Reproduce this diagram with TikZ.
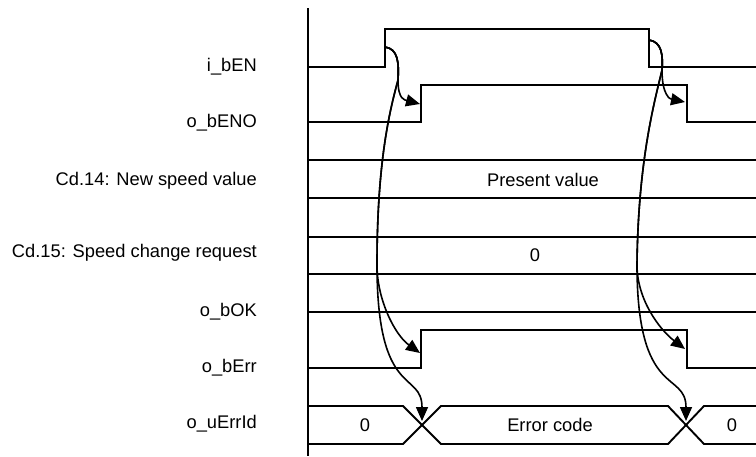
\documentclass[tikz,border=0pt]{standalone}
\usepackage{fontspec}
\setmainfont{Liberation Sans}
\usetikzlibrary{arrows.meta}
\tikzset{
  wavelines/.style={line width=1.9pt},
  signame/.style={anchor=east, inner sep=0pt, font=\fontsize{18.3}{22}\selectfont},
  busval/.style={inner sep=0pt, font=\fontsize{18.3}{22}\selectfont},
  cause/.style={line width=1.6pt, -{Triangle[length=14pt,width=12pt]}}
}

\begin{document}
\begin{tikzpicture}[x=1pt,y=-1pt]
  \useasboundingbox (0,0) rectangle (756,456);

  % Time axis
  \draw[wavelines] (308,8) -- (308,456);

  % Signal names
  \node[signame] (nben) at (257,67) {i\_bEN};
  \node[signame] (nbeno) at (257,123) {o\_bENO};
  \node[signame] (ncdfourteen) at (257,181) {Cd.14: New speed value};
  \node[signame] (ncdfifteen) at (257,253) {Cd.15: Speed change request};
  \node[signame] (nbok) at (257,312) {o\_bOK};
  \node[signame] (nberr) at (257,368) {o\_bErr};
  \node[signame] (nuerrid) at (257,424) {o\_uErrId};

  % i_bEN
  \draw[wavelines] (308,67) -- (385,67) -- (385,29) -- (649,29) -- (649,67) -- (756,67);

  % o_bENO
  \draw[wavelines] (308,122) -- (421,122) -- (421,85) -- (687,85) -- (687,122) -- (756,122);

  % Cd.14
  \draw[wavelines] (308,160) -- (756,160);
  \draw[wavelines] (308,198) -- (756,198);
  \node[busval] (vpresent) at (543,180) {Present value};

  % Cd.15
  \draw[wavelines] (308,237) -- (756,237);
  \draw[wavelines] (308,274) -- (756,274);
  \node[busval] (vzero) at (535,255) {0};

  % o_bOK
  \draw[wavelines] (308,312) -- (756,312);

  % o_bErr
  \draw[wavelines] (308,368) -- (421,368) -- (421,330) -- (687,330) -- (687,368) -- (756,368);

  % o_uErrId
  \draw[wavelines] (308,406) -- (403,406) -- (441,444) -- (668,444) -- (704,406) -- (756,406);
  \draw[wavelines] (308,444) -- (403,444) -- (441,406) -- (668,406) -- (704,444) -- (756,444);
  \node[busval] (idzero) at (365,425) {0};
  \node[busval] (iderr) at (550,425) {Error code};
  \node[busval] (idzeroend) at (732,425) {0};

  % i_bEN on
  \coordinate (onstart) at (385,47);
  \coordinate (onbend) at (398,80);
  \coordinate (onmid) at (377,265);
  \coordinate (onbeno) at (420,104);
  \coordinate (onberr) at (420,353);
  \coordinate (onid) at (422,421);
  \draw[cause] (onstart) .. controls (398,49) and (399,62) .. (onbend)
    .. controls (398,100) and (405,100) .. (onbeno);
  \draw[cause] (onstart) .. controls (398,49) and (399,62) .. (onbend)
    .. controls (390,110) and (377,160) .. (onmid)
    .. controls (377,300) and (395,335) .. (onberr);
  \draw[cause] (onstart) .. controls (398,49) and (399,62) .. (onbend)
    .. controls (390,110) and (377,160) .. (onmid)
    .. controls (377,400) and (422,370) .. (onid);

  % i_bEN off
  \coordinate (offstart) at (649,40);
  \coordinate (offbend) at (662,70);
  \coordinate (offmid) at (637,265);
  \coordinate (offbeno) at (685,102);
  \coordinate (offberr) at (685,349);
  \coordinate (offid) at (686,421);
  \draw[cause] (offstart) .. controls (662,42) and (663,55) .. (offbend)
    .. controls (662,95) and (670,99) .. (offbeno);
  \draw[cause] (offstart) .. controls (662,42) and (663,55) .. (offbend)
    .. controls (655,100) and (638,160) .. (offmid)
    .. controls (637,300) and (660,330) .. (offberr);
  \draw[cause] (offstart) .. controls (662,42) and (663,55) .. (offbend)
    .. controls (655,100) and (638,160) .. (offmid)
    .. controls (637,400) and (686,370) .. (offid);
\end{tikzpicture}
\end{document}
